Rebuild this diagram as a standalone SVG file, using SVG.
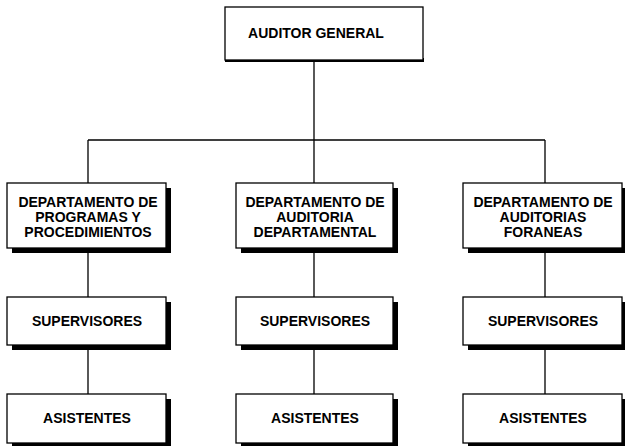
<svg xmlns="http://www.w3.org/2000/svg" width="625" height="446" viewBox="0 0 625 446">
<style>
.box{fill:#fff;stroke:#000;stroke-width:1.3}
.sh{fill:#000}
.t{font-family:"Liberation Sans",Arial,sans-serif;font-size:14px;font-weight:bold;fill:#000;text-anchor:middle}
.c{stroke:#000;stroke-width:1.3;fill:none}
</style>
<rect width="625" height="446" fill="#fff"/>
<g id="connectors">
<path class="c" d="M314 60V140M88 140H545M88 140V183M314 140V183M545 140V183"/>
<path class="c" d="M88 248V297M88 345V394M314 248V297M314 345V394M545 248V297M545 345V394"/>
</g>
<g id="auditor-general">
<rect class="sh" x="225" y="58" width="199" height="4"/>
<rect class="box" x="225" y="7" width="198" height="53"/>
<text class="t" x="316" y="38">AUDITOR GENERAL</text>
</g>
<g id="dept-programas">
<rect class="sh" x="12" y="188" width="159" height="65"/>
<rect class="box" x="7" y="183" width="159" height="65"/>
<text class="t" x="88" y="207">DEPARTAMENTO DE</text>
<text class="t" x="88" y="222">PROGRAMAS Y</text>
<text class="t" x="88" y="237">PROCEDIMIENTOS</text>
</g>
<g id="dept-auditoria">
<rect class="sh" x="241" y="188" width="157" height="65"/>
<rect class="box" x="236" y="183" width="157" height="65"/>
<text class="t" x="315" y="207">DEPARTAMENTO DE</text>
<text class="t" x="315" y="222">AUDITORIA</text>
<text class="t" x="315" y="237">DEPARTAMENTAL</text>
</g>
<g id="dept-foraneas">
<rect class="sh" x="468" y="188" width="159" height="65"/>
<rect class="box" x="463" y="183" width="159" height="65"/>
<text class="t" x="543" y="207">DEPARTAMENTO DE</text>
<text class="t" x="543" y="222">AUDITORIAS</text>
<text class="t" x="543" y="237">FORANEAS</text>
</g>
<g id="supervisores-1">
<rect class="sh" x="12" y="302" width="159" height="48"/>
<rect class="box" x="7" y="297" width="159" height="48"/>
<text class="t" x="87" y="326">SUPERVISORES</text>
</g>
<g id="supervisores-2">
<rect class="sh" x="241" y="302" width="157" height="48"/>
<rect class="box" x="236" y="297" width="157" height="48"/>
<text class="t" x="315" y="326">SUPERVISORES</text>
</g>
<g id="supervisores-3">
<rect class="sh" x="468" y="302" width="159" height="48"/>
<rect class="box" x="463" y="297" width="159" height="48"/>
<text class="t" x="543" y="326">SUPERVISORES</text>
</g>
<g id="asistentes-1">
<rect class="sh" x="12" y="399" width="159" height="49"/>
<rect class="box" x="7" y="394" width="159" height="49"/>
<text class="t" x="87" y="423">ASISTENTES</text>
</g>
<g id="asistentes-2">
<rect class="sh" x="241" y="399" width="157" height="49"/>
<rect class="box" x="236" y="394" width="157" height="49"/>
<text class="t" x="315" y="423">ASISTENTES</text>
</g>
<g id="asistentes-3">
<rect class="sh" x="468" y="399" width="159" height="49"/>
<rect class="box" x="463" y="394" width="159" height="49"/>
<text class="t" x="543" y="423">ASISTENTES</text>
</g>
</svg>
